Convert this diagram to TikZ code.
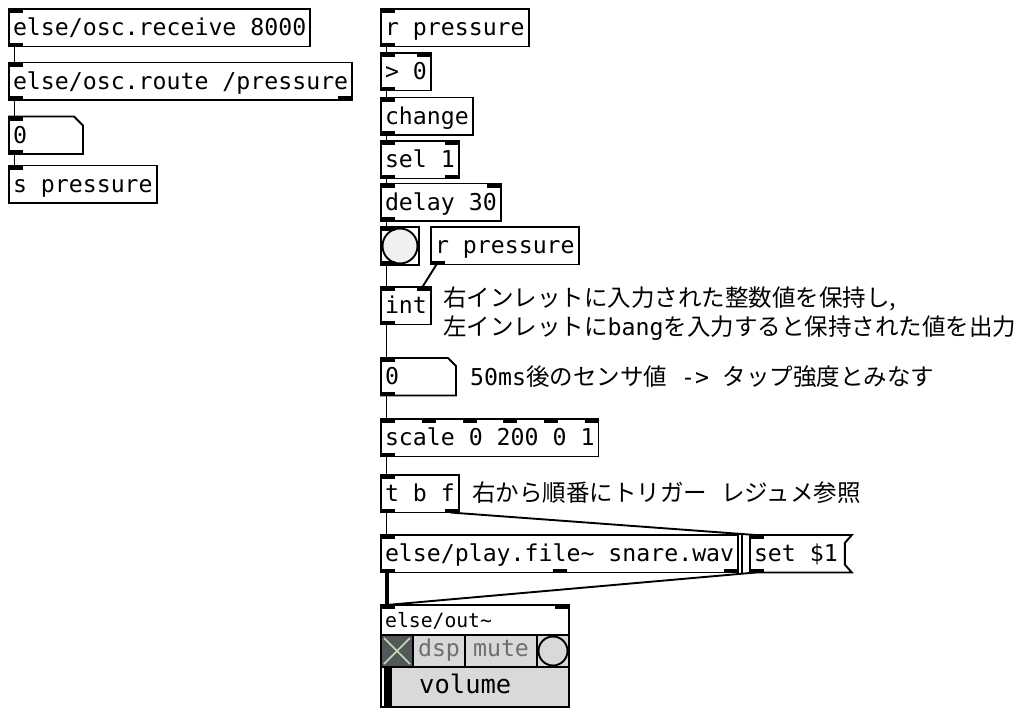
\documentclass[tikz,border=0pt]{standalone}
\usepackage{fontspec}
\setmonofont{DejaVu Sans Mono}
\newfontfamily\cjk{Noto Sans CJK JP}
\usetikzlibrary{calc}
\newcommand\pdfont{\ttfamily\fontsize{23.2}{28}\selectfont}
\newcommand\jp{\cjk\fontsize{23.5}{28}\selectfont}
\newcommand\lat{\ttfamily\fontsize{23.2}{28}\selectfont}
\newcommand\pdIL[1]{\fill (#1.north west) rectangle ++(14,4);}
\newcommand\pdIR[1]{\fill (#1.north east) rectangle ++(-14,4);}
\newcommand\pdOL[1]{\fill (#1.south west) rectangle ++(14,-4);}
\newcommand\pdOR[1]{\fill (#1.south east) rectangle ++(-14,-4);}
\definecolor{cellgray}{HTML}{D9D9D9}
\definecolor{xgray}{HTML}{525858}
\definecolor{xgreen}{HTML}{C6DCB8}
\definecolor{txtgray}{HTML}{6E6E6E}
\begin{document}
\begin{tikzpicture}[x=1pt,y=-1pt,
  pdbox/.style={draw=black, line width=1.9pt, fill=white, anchor=north west,
    inner xsep=4pt, inner ysep=0pt, text height=26.5pt, text depth=11pt,
    font=\pdfont, outer sep=0pt},
  pdtxt/.style={anchor=north west, inner xsep=4pt, inner ysep=0pt,
    text height=26.5pt, text depth=11pt, font=\pdfont, outer sep=0pt},
  boxline/.style={draw=black, line width=1.9pt, fill=white},
  conn/.style={draw=black, line width=1.9pt},
  sigconn/.style={draw=black, line width=4pt},
  cmt/.style={anchor=base west, inner sep=0pt},
  cell/.style={draw=black, line width=1.9pt, fill=cellgray, anchor=north west,
    inner sep=0pt, outer sep=0pt}]
\fill[white] (0,0) rectangle (1026,718);
\useasboundingbox (0,0) rectangle (1026,718);

% ---------- left column ----------
\node[pdbox] (rcv) at (9,9) {else/osc.receive 8000};
\node[pdbox] (route) at (9,62.5) {else/osc.route /pressure};
\node[pdtxt, text width=66pt, align=left] (num1) at (9,116.5) {0};
\draw[boxline] (num1.north west) -- ($(num1.north east)+(-9,0)$) -- ($(num1.north east)+(0,9)$)
  -- (num1.south east) -- (num1.south west) -- cycle;
\node[pdtxt, text width=66pt, align=left] at (num1.north west) {0};
\node[pdbox] (snd) at (9,165.5) {s pressure};

\pdIL{rcv}\pdOL{rcv}
\pdIL{route}\pdOL{route}\pdOR{route}
\pdIL{num1}\pdOL{num1}
\pdIL{snd}

\draw[conn] ($(rcv.south west)+(5.5,0)$) -- ($(route.north west)+(5.5,0)$);
\draw[conn] ($(route.south west)+(5.5,0)$) -- ($(num1.north west)+(5.5,0)$);
\draw[conn] ($(num1.south west)+(5.5,0)$) -- ($(snd.north west)+(5.5,0)$);

% ---------- right column ----------
\node[pdbox] (rp1) at (381,9) {r pressure};
\node[pdbox] (gt) at (381,53) {> 0};
\node[pdbox] (chg) at (381,97.5) {change};
\node[pdbox] (sel) at (381,141) {sel 1};
\node[pdbox] (dly) at (381,183.5) {delay 30};
\node[draw=black, line width=1.9pt, fill=white, anchor=north west, minimum width=38pt,
  minimum height=38pt, inner sep=0pt, outer sep=0pt] (bng) at (381,227) {};
\draw[line width=1.9pt, fill=white!94!black] (bng.center) circle (17.5);
\node[pdbox] (rp2) at (431,227) {r pressure};
\node[pdbox] (int) at (381,287) {int};
\node[pdtxt, text width=67pt, align=left] (num2) at (381,358) {0};
\draw[boxline] (num2.north west) -- ($(num2.north east)+(-8,0)$) -- ($(num2.north east)+(0,8)$)
  -- (num2.south east) -- (num2.south west) -- cycle;
\node[pdtxt, text width=67pt, align=left] at (num2.north west) {0};
\node[pdbox] (scl) at (381,419) {scale 0 200 0 1};
\node[pdbox] (tbf) at (381,475) {t b f};
\node[pdbox] (play) at (381,535) {else/play.file\textasciitilde{} snare.wav};
\node[pdtxt] (set) at (750,535) {set \$1};
\draw[boxline] (set.north west) -- ($(set.north east)+(10,0)$) -- ($(set.north east)+(3,8)$)
  -- ($(set.south east)+(3,-8)$) -- ($(set.south east)+(10,0)$) -- (set.south west) -- cycle;
\node[pdtxt] at (set.north west) {set \$1};

% iolets
\pdIL{rp1}\pdOL{rp1}
\pdIL{gt}\pdIR{gt}\pdOL{gt}
\pdIL{chg}\pdOL{chg}
\pdIL{sel}\pdIR{sel}\pdOL{sel}\pdOR{sel}
\pdIL{dly}\pdIR{dly}\pdOL{dly}
\pdIL{bng}\pdOL{bng}
\pdOL{rp2}
\pdIL{int}\pdIR{int}\pdOL{int}
\pdIL{num2}\pdOL{num2}
\foreach \k in {0,...,5} {\fill ($(scl.north west)+(40.8*\k,0)$) rectangle ++(14,4);}
\pdOL{scl}
\pdIL{tbf}\pdOL{tbf}\pdOR{tbf}
\pdIL{play}\pdOL{play}\pdOR{play}
\fill ($(play.south west)!0.5!(play.south east)+(-7,0)$) rectangle ++(14,-4);
\pdIL{set}\pdOL{set}

% ---------- else/out~ ----------
\node[draw=black, line width=1.9pt, fill=white, anchor=north west, minimum width=188pt,
  minimum height=102pt, inner sep=0pt, outer sep=0pt] (out) at (381,605) {};
\node[anchor=base west, inner sep=0pt, font=\ttfamily\fontsize{19.7}{22}\selectfont] (outname)
  at ($(out.north west)+(4,22.5)$) {else/out\textasciitilde};
\node[cell, fill=xgray, minimum width=32pt, minimum height=32pt] (outx) at (381,635) {};
\draw[xgreen, line width=1.5pt] ($(outx.north west)+(3,3)$) -- ($(outx.south east)+(-3,-3)$);
\draw[xgreen, line width=1.5pt] ($(outx.north east)+(-3,3)$) -- ($(outx.south west)+(3,-3)$);
\node[cell, minimum width=52pt, minimum height=32pt, text=txtgray, font=\pdfont,
  text height=16pt, text depth=5pt] (dsp) at (413,635) {dsp};
\node[cell, minimum width=72pt, minimum height=32pt, text=txtgray, font=\pdfont,
  text height=16pt, text depth=5pt] (mute) at (465,635) {mute};
\node[cell, minimum width=32pt, minimum height=32pt] (outc) at (537,635) {};
\draw[line width=1.9pt, fill=cellgray] (outc.center) circle (14.5);
\node[cell, minimum width=188pt, minimum height=40pt] (vol) at (381,667) {};
\fill[white] ($(vol.north west)+(1,1)$) rectangle ($(vol.south west)+(3,-1)$);
\fill[black] ($(vol.north west)+(3,0)$) rectangle ($(vol.south west)+(10.5,0)$);
\node[anchor=base west, inner sep=0pt, font=\ttfamily\fontsize{25.5}{28}\selectfont]
  (voltxt) at ($(vol.south west)+(38,-14)$) {volume};
\draw[line width=1.9pt] (out.north west) rectangle (out.south east);
\pdIL{out}\pdIR{out}

% ---------- connections ----------
\draw[conn] ($(rp1.south west)+(5.5,0)$) -- ($(gt.north west)+(5.5,0)$);
\draw[conn] ($(gt.south west)+(5.5,0)$) -- ($(chg.north west)+(5.5,0)$);
\draw[conn] ($(chg.south west)+(5.5,0)$) -- ($(sel.north west)+(5.5,0)$);
\draw[conn] ($(sel.south west)+(5.5,0)$) -- ($(dly.north west)+(5.5,0)$);
\draw[conn] ($(dly.south west)+(5.5,0)$) -- ($(bng.north west)+(5.5,0)$);
\draw[conn] ($(bng.south west)+(5.5,0)$) -- ($(int.north west)+(5.5,0)$);
\draw[conn] ($(rp2.south west)+(5.5,0)$) -- ($(int.north east)+(-8.5,0)$);
\draw[conn] ($(int.south west)+(5.5,0)$) -- ($(num2.north west)+(5.5,0)$);
\draw[conn] ($(num2.south west)+(5.5,0)$) -- ($(scl.north west)+(5.5,0)$);
\draw[conn] ($(scl.south west)+(5.5,0)$) -- ($(tbf.north west)+(5.5,0)$);
\draw[conn] ($(tbf.south west)+(5.5,0)$) -- ($(play.north west)+(5.5,0)$);
\draw[conn] ($(tbf.south east)+(-8.5,0)$) -- ($(set.north west)+(5.5,0)$);
\draw[conn] ($(play.north east)+(3.5,0)$) -- ($(play.south east)+(3.5,0)$);
\draw[sigconn] ($(play.south west)+(5.5,0)$) -- ($(out.north west)+(5.5,0)$);
\draw[conn] ($(set.south west)+(5.5,0)$) -- ($(out.north west)+(5.5,0)$);

% ---------- comments ----------
\node[cmt] (c1) at (443,306) {\jp 右インレットに入力された整数値を保持し,};
\node[cmt] (c2) at (443,335) {{\jp 左インレットに}{\lat bang}{\jp を入力すると保持された値を出力}};
\node[cmt] (c3) at (470,385) {{\lat 50ms}{\jp 後のセンサ値}{\lat\ ->\ }{\jp タップ強度とみなす}};
\node[cmt] (c4) at (472,501) {{\jp 右から順番にトリガー}{\lat\ }{\jp レジュメ参照}};
\end{tikzpicture}
\end{document}
